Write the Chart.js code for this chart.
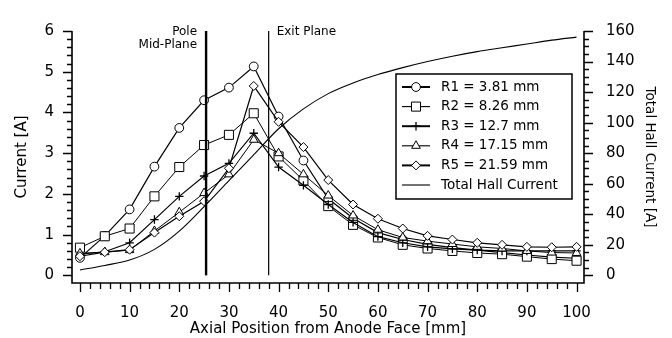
<!DOCTYPE html>
<html>
<head>
<meta charset="utf-8">
<script src="https://cdn.jsdelivr.net/npm/chart.js@4/dist/chart.umd.min.js"></script>
<style>
  html, body { margin: 0; padding: 0; background: #fff; }
  canvas { display: block; }
</style>
</head>
<body>
<canvas id="chart" width="672" height="338"></canvas>
<script>
// 축 방향 위치 (mm)
const positions = [0, 5, 10, 15, 20, 25, 30, 35, 40, 45, 50, 55, 60, 65, 70, 75, 80, 85, 90, 95, 100];

// 반경별 전류 (A)
const r1 = [0.43, 0.97, 1.62, 2.67, 3.62, 4.30, 4.61, 5.13, 3.90, 2.82, 1.88, 1.40, 1.05, 0.88, 0.76, 0.68, 0.62, 0.56, 0.50, 0.45, 0.42];
const r2 = [0.68, 0.96, 1.15, 1.94, 2.66, 3.20, 3.45, 3.98, 2.92, 2.33, 1.70, 1.24, 0.93, 0.75, 0.66, 0.60, 0.55, 0.52, 0.46, 0.40, 0.36];
const r3 = [0.52, 0.58, 0.80, 1.37, 1.94, 2.44, 2.75, 3.49, 2.66, 2.21, 1.74, 1.30, 0.95, 0.80, 0.70, 0.65, 0.62, 0.60, 0.60, 0.60, 0.60];
const r4 = [0.54, 0.57, 0.62, 1.09, 1.55, 2.02, 2.48, 3.33, 3.00, 2.48, 1.96, 1.47, 1.12, 0.93, 0.84, 0.77, 0.70, 0.66, 0.60, 0.56, 0.55];
const r5 = [0.47, 0.57, 0.63, 1.05, 1.45, 1.82, 2.63, 4.65, 3.77, 3.15, 2.34, 1.74, 1.39, 1.15, 0.97, 0.88, 0.80, 0.75, 0.70, 0.69, 0.70];

// 전체 홀 전류 (A, 오른쪽 축)
const totalHall = [3.5, 6.5, 10, 17, 29, 45, 62, 79, 96, 109, 119, 126, 131.5, 136, 140, 143.5, 146.5, 149, 151.5, 154, 156];

const seriesLabels = ['R1 = 3.81 mm', 'R2 = 8.26 mm', 'R3 = 12.7 mm', 'R4 = 17.15 mm', 'R5 = 21.59 mm', 'Total Hall Current'];

// 기준면 위치 (mm)
const poleMidPlane = 25.4;
const exitPlane = 38;

// 눈금
const xTicks = [0, 10, 20, 30, 40, 50, 60, 70, 80, 90, 100];
const yTicks = [0, 1, 2, 3, 4, 5, 6];
const y2Ticks = [0, 20, 40, 60, 80, 100, 120, 140, 160];

const toPoints = arr => arr.map((v, i) => ({ x: positions[i], y: v }));
const FONT = 'DejaVu Sans';

function radialSet(label, data, style, radius, width) {
    return {
        label,
        data: toPoints(data),
        yAxisID: 'y',
        borderColor: '#000',
        borderWidth: width,
        pointStyle: style,
        pointRadius: radius,
        pointBackgroundColor: '#fff',
        pointBorderColor: '#000',
        pointBorderWidth: style === 'cross' ? 1.3 : 1,
        tension: 0
    };
}

function planeSet(xv, width) {
    return {
        label: '',
        data: [{ x: xv, y: 0 }, { x: xv, y: 6 }],
        yAxisID: 'y',
        borderColor: '#000',
        borderWidth: width,
        pointRadius: 0
    };
}

const datasets = [
    planeSet(poleMidPlane, 2.4),
    planeSet(exitPlane, 1.2),
    {
        label: seriesLabels[5],
        data: toPoints(totalHall),
        yAxisID: 'y2',
        borderColor: '#000',
        borderWidth: 1.1,
        pointRadius: 0,
        cubicInterpolationMode: 'monotone'
    },
    radialSet(seriesLabels[4], r5, 'rectRot', 4.5, 1.2),
    radialSet(seriesLabels[3], r4, 'triangle', 5, 1),
    radialSet(seriesLabels[2], r3, 'cross', 4.2, 1.2),
    radialSet(seriesLabels[1], r2, 'rect', 6.4, 1),
    radialSet(seriesLabels[0], r1, 'circle', 4.4, 1.2)
];

// 축선과 보조 눈금
const axisFrame = {
    id: 'axisFrame',
    afterDraw(chart) {
        const { ctx, chartArea: a, scales: { x, y, y2 } } = chart;
        ctx.save();
        ctx.strokeStyle = '#000';
        ctx.lineWidth = 1.6;
        ctx.beginPath();
        ctx.moveTo(a.left, a.top);
        ctx.lineTo(a.left, a.bottom);
        ctx.lineTo(a.right, a.bottom);
        ctx.lineTo(a.right, a.top);
        ctx.stroke();

        ctx.lineWidth = 1.3;
        ctx.beginPath();
        for (let i = 0; i <= 50; i++) {
            const px = Math.round(x.getPixelForValue(i * 2)) + 0.5;
            const len = i % 5 === 0 ? 9 : 6;
            ctx.moveTo(px, a.bottom);
            ctx.lineTo(px, a.bottom + len);
        }
        for (let i = 0; i <= 30; i++) {
            const py = Math.round(y.getPixelForValue(i * 0.2)) + 0.5;
            const len = i % 5 === 0 ? 9 : 5;
            ctx.moveTo(a.left, py);
            ctx.lineTo(a.left - len, py);
        }
        for (let i = 0; i <= 32; i++) {
            const py = Math.round(y2.getPixelForValue(i * 5)) + 0.5;
            const len = i % 4 === 0 ? 9 : 5;
            ctx.moveTo(a.right, py);
            ctx.lineTo(a.right + len, py);
        }
        ctx.stroke();

        // 기준면 주석
        ctx.fillStyle = '#000';
        ctx.font = `12px "${FONT}"`;
        ctx.textBaseline = 'middle';
        const pole = x.getPixelForValue(poleMidPlane);
        const exit = x.getPixelForValue(exitPlane);
        ctx.textAlign = 'right';
        ctx.fillText('Pole', pole - 9, 32);
        ctx.fillText('Mid-Plane', pole - 9, 45);
        ctx.textAlign = 'left';
        ctx.fillText('Exit Plane', exit + 8, 32);
        ctx.restore();
    }
};

// 범례 (차트 영역 안쪽 박스)
const boxLegend = {
    id: 'boxLegend',
    afterDraw(chart) {
        const { ctx } = chart;
        const box = { left: 396, top: 74, right: 572, bottom: 199 };
        ctx.save();
        ctx.fillStyle = '#fff';
        ctx.fillRect(box.left, box.top, box.right - box.left, box.bottom - box.top);
        ctx.strokeStyle = '#000';
        ctx.lineWidth = 1.5;
        ctx.strokeRect(box.left, box.top, box.right - box.left, box.bottom - box.top);

        const rowH = 19.6;
        seriesLabels.forEach((label, i) => {
            const ds = chart.data.datasets.find(d => d.label === label);
            const cy = box.top + 13 + i * rowH;
            const x0 = box.left + 6, x1 = box.left + 34;
            ctx.strokeStyle = '#000';
            ctx.lineWidth = ds.pointRadius ? (ds.borderWidth > 1 ? 2 : 1.1) : 1.1;
            ctx.beginPath();
            ctx.moveTo(x0, cy);
            ctx.lineTo(x1, cy);
            ctx.stroke();
            if (ds.pointRadius) {
                ctx.fillStyle = '#fff';
                ctx.lineWidth = ds.pointBorderWidth;
                Chart.helpers.drawPoint(ctx, {
                    pointStyle: ds.pointStyle,
                    radius: ds.pointRadius,
                    borderWidth: ds.pointBorderWidth,
                    rotation: 0
                }, (x0 + x1) / 2, cy);
            }
            ctx.fillStyle = '#000';
            ctx.font = `13.5px "${FONT}"`;
            ctx.textAlign = 'left';
            ctx.textBaseline = 'middle';
            ctx.fillText(label, box.left + 45, cy);
        });
        ctx.restore();
    }
};

const tickFont = { family: FONT, size: 15 };
const noGrid = { display: false, drawTicks: false };

new Chart(document.getElementById('chart'), {
    type: 'line',
    data: { datasets },
    options: {
        responsive: false,
        animation: false,
        layout: { padding: { top: 17, left: 0, right: 0, bottom: 0 } },
        plugins: {
            legend: { display: false },
            tooltip: { enabled: false }
        },
        scales: {
            x: {
                type: 'linear',
                min: -1.6,
                max: 101.5,
                afterBuildTicks: axis => { axis.ticks = xTicks.map(v => ({ value: v })); },
                afterFit: scale => { scale.height = 55; },
                grid: noGrid,
                border: { display: false },
                ticks: { color: '#000', font: tickFont, padding: 21, maxRotation: 0 },
                title: {
                    display: true,
                    text: 'Axial Position from Anode Face [mm]',
                    color: '#000',
                    font: { family: FONT, size: 15 },
                    padding: { bottom: 0 }
                }
            },
            y: {
                position: 'left',
                min: -0.1875,
                max: 6,
                afterBuildTicks: axis => { axis.ticks = yTicks.map(v => ({ value: v })); },
                afterFit: scale => { scale.width = 72; },
                grid: noGrid,
                border: { display: false },
                ticks: { color: '#000', font: tickFont, padding: 18 },
                title: {
                    display: true,
                    text: 'Current [A]',
                    color: '#000',
                    font: { family: FONT, size: 15 },
                    padding: { top: 13 }
                }
            },
            y2: {
                position: 'right',
                min: -5,
                max: 160,
                afterBuildTicks: axis => { axis.ticks = y2Ticks.map(v => ({ value: v })); },
                afterFit: scale => { scale.width = 88; },
                grid: noGrid,
                border: { display: false },
                ticks: { color: '#000', font: tickFont, padding: 22 },
                title: {
                    display: true,
                    text: 'Total Hall Current [A]',
                    color: '#000',
                    font: { family: FONT, size: 13.5 },
                    padding: { top: 14 }
                }
            }
        }
    },
    plugins: [axisFrame, boxLegend]
});
</script>
</body>
</html>
